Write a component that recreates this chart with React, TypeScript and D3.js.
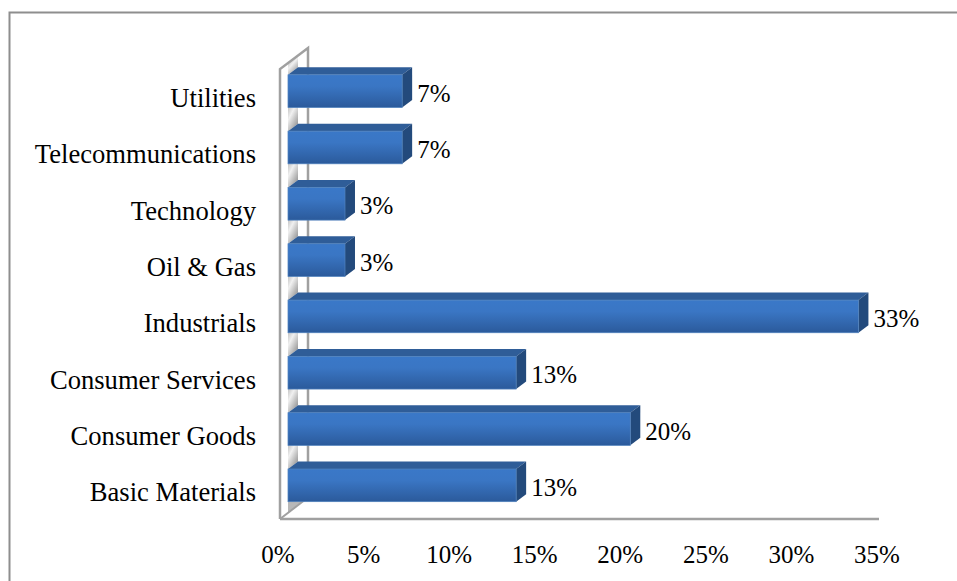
import React, { useRef, useEffect } from 'react';
import * as d3 from 'd3';

const categories = ['Utilities', 'Telecommunications', 'Technology', 'Oil & Gas', 'Industrials', 'Consumer Services', 'Consumer Goods', 'Basic Materials'];
const shares = [6.67, 6.67, 3.33, 3.33, 33.33, 13.33, 20, 13.33];
const axisTicks = [0, 5, 10, 15, 20, 25, 30, 35];

const serif = '"Liberation Serif", "Times New Roman", serif';

const App: React.FC = () => {
  const svgRef = useRef<SVGSVGElement>(null);

  useEffect(() => {
    if (!svgRef.current) return;

    const svg = d3.select(svgRef.current);
    svg.selectAll('*').remove();
    const width = 957;
    const height = 581;
    svg.attr('width', width).attr('height', height);

    // 3d offset of the back wall
    const depthX = 10;
    const depthY = 7.5;

    const x = d3.scaleLinear().domain([0, 35]).range([280, 879]);
    const y = d3.scaleBand<string>()
      .domain(categories)
      .range([63, 513.5])
      .paddingInner(0.42)
      .paddingOuter(0.21);

    const defs = svg.append('defs');

    const front = defs.append('linearGradient').attr('id', 'barFront')
      .attr('x1', 0).attr('y1', 0).attr('x2', 0).attr('y2', 1);
    front.append('stop').attr('offset', '0%').attr('stop-color', '#3a78c8');
    front.append('stop').attr('offset', '35%').attr('stop-color', '#3a76c4');
    front.append('stop').attr('offset', '100%').attr('stop-color', '#2b5a9b');

    const wall = defs.append('linearGradient').attr('id', 'wall')
      .attr('x1', 0).attr('y1', 0).attr('x2', 0.6).attr('y2', 1);
    wall.append('stop').attr('offset', '0%').attr('stop-color', '#a4a4a4');
    wall.append('stop').attr('offset', '50%').attr('stop-color', '#f0f0f0');
    wall.append('stop').attr('offset', '100%').attr('stop-color', '#9c9c9c');

    svg.append('rect')
      .attr('x', 9.5).attr('y', 12.5)
      .attr('width', width + 20).attr('height', height + 20)
      .attr('fill', '#fff')
      .attr('stroke', '#8e8e8e')
      .attr('stroke-width', 2);

    const wallLine = '#a0a0a0';
    const wallTop = y.range()[0] + 6;
    const wallBottom = 519;

    // wall shading that shows in the gaps between the bars
    const firstTop = y(categories[0])!;
    const lastBottom = y(categories[categories.length - 1])! + y.bandwidth();
    const gaps = categories.slice(0, -1).map(d => {
      const y0 = y(d)! + y.bandwidth() - 2;
      return [y0, y0 + y.step() - y.bandwidth() + 2];
    });
    gaps.unshift([firstTop - 11, firstTop]);

    const shade = svg.append('g');
    shade.selectAll('path')
      .data(gaps)
      .enter().append('path')
      .attr('d', d => `M288,${d[0]}L${288 + depthX},${d[0] - depthY}L${288 + depthX},${d[1] - depthY}L288,${d[1]}Z`)
      .attr('fill', 'url(#wall)');
    shade.append('path')
      .attr('d', `M288,${lastBottom - 2}L304,${lastBottom - 2}L288,${lastBottom + 11}Z`)
      .attr('fill', '#b8b8b8');

    const frame = svg.append('g')
      .attr('fill', 'none')
      .attr('stroke', wallLine)
      .attr('stroke-width', 2.5);

    frame.append('path')
      .attr('d', `M280,${wallBottom}L280,${wallTop}L308,48L308,${wallBottom - 20}`);
    frame.append('path')
      .attr('d', `M280,${wallBottom}L306,${wallBottom - 20}`)
      .attr('stroke-width', 2);
    frame.append('path')
      .attr('d', `M280,${wallBottom}L${x(35)},${wallBottom}`);

    const rows = svg.append('g').selectAll('g')
      .data(categories.map((name, i) => ({ name, value: shares[i] })))
      .enter().append('g');

    const barEnd = (v: number) => x(v) + 8;

    rows.append('path')
      .attr('d', d => {
        const t = y(d.name)!;
        return `M288,${t}L${288 + depthX},${t - depthY}L${barEnd(d.value) + depthX},${t - depthY}L${barEnd(d.value)},${t}Z`;
      })
      .attr('fill', '#2f5d98');

    rows.append('path')
      .attr('d', d => {
        const t = y(d.name)!;
        const e = barEnd(d.value);
        const b = y.bandwidth();
        return `M${e},${t}L${e + depthX},${t - depthY}L${e + depthX},${t + b - depthY}L${e},${t + b}Z`;
      })
      .attr('fill', '#234a7c');

    rows.append('rect')
      .attr('x', 288)
      .attr('y', d => y(d.name)!)
      .attr('width', d => barEnd(d.value) - 288)
      .attr('height', y.bandwidth())
      .attr('fill', 'url(#barFront)')
      .attr('stroke', '#4f81bd')
      .attr('stroke-width', 0.75);

    rows.append('text')
      .attr('x', d => barEnd(d.value) + 15)
      .attr('y', d => y(d.name)! + y.bandwidth() / 2 + 10.5)
      .attr('font-family', serif)
      .attr('font-size', 25)
      .attr('fill', '#000')
      .text(d => `${Math.round(d.value)}%`);

    svg.append('g').selectAll('text')
      .data(categories)
      .enter().append('text')
      .attr('x', 256)
      .attr('y', d => y(d)! + y.bandwidth() / 2 + 16)
      .attr('text-anchor', 'end')
      .attr('font-family', serif)
      .attr('font-size', 26.6)
      .attr('fill', '#000')
      .text(d => d);

    svg.append('g').selectAll('text')
      .data(axisTicks)
      .enter().append('text')
      .attr('x', d => x(d) - 2)
      .attr('y', 563)
      .attr('text-anchor', 'middle')
      .attr('font-family', serif)
      .attr('font-size', 25)
      .attr('fill', '#000')
      .text(d => `${d}%`);
  }, []);

  return <svg ref={svgRef} style={{ position: 'absolute', left: 0, top: 0 }}></svg>;
};

export default App;
